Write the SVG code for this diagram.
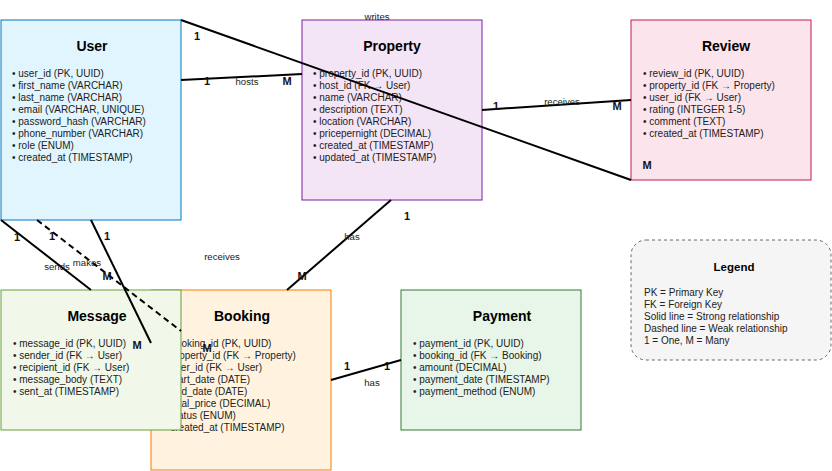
<svg xmlns="http://www.w3.org/2000/svg" width="832" height="471" viewBox="0 0 832 471">
<style>
text{font-family:"Liberation Sans",Arial,Helvetica,sans-serif;}
.title{font-size:14px;font-weight:bold;fill:#000;text-anchor:middle;}
.f{font-size:10px;fill:#222;}
.box{stroke-width:1;}
.rel{font-size:9.6px;fill:#222;text-anchor:middle;}
.card{font-size:11px;font-weight:bold;fill:#111;text-anchor:middle;}
.line{stroke:#000;stroke-width:2;fill:none;}
.dash{stroke-dasharray:6 4;}
</style>
<rect width="832" height="471" fill="#fff"/>
<g id="user">
<rect class="box" x="1" y="20" width="180" height="200" fill="#e1f5fe" stroke="#0277bd"/>
<text class="title" x="92" y="51">User</text>
<text class="f" x="12" y="77">• user_id (PK, UUID)</text>
<text class="f" x="12" y="89">• first_name (VARCHAR)</text>
<text class="f" x="12" y="101">• last_name (VARCHAR)</text>
<text class="f" x="12" y="113">• email (VARCHAR, UNIQUE)</text>
<text class="f" x="12" y="125">• password_hash (VARCHAR)</text>
<text class="f" x="12" y="137">• phone_number (VARCHAR)</text>
<text class="f" x="12" y="149">• role (ENUM)</text>
<text class="f" x="12" y="161">• created_at (TIMESTAMP)</text>
</g>
<g id="property">
<rect class="box" x="302" y="20" width="180" height="180" fill="#f3e5f5" stroke="#7b1fa2"/>
<text class="title" x="392" y="51">Property</text>
<text class="f" x="313" y="77">• property_id (PK, UUID)</text>
<text class="f" x="313" y="89">• host_id (FK → User)</text>
<text class="f" x="313" y="101">• name (VARCHAR)</text>
<text class="f" x="313" y="113">• description (TEXT)</text>
<text class="f" x="313" y="125">• location (VARCHAR)</text>
<text class="f" x="313" y="137">• pricepernight (DECIMAL)</text>
<text class="f" x="313" y="149">• created_at (TIMESTAMP)</text>
<text class="f" x="313" y="161">• updated_at (TIMESTAMP)</text>
</g>
<g id="review">
<rect class="box" x="631" y="20" width="180" height="160" fill="#fce4ec" stroke="#c2185b"/>
<text class="title" x="726" y="51">Review</text>
<text class="f" x="643" y="77">• review_id (PK, UUID)</text>
<text class="f" x="643" y="89">• property_id (FK → Property)</text>
<text class="f" x="643" y="101">• user_id (FK → User)</text>
<text class="f" x="643" y="113">• rating (INTEGER 1-5)</text>
<text class="f" x="643" y="125">• comment (TEXT)</text>
<text class="f" x="643" y="137">• created_at (TIMESTAMP)</text>
</g>
<g id="booking">
<rect class="box" x="151" y="290" width="180" height="180" fill="#fff3e0" stroke="#f57c00"/>
<text class="title" x="242" y="321">Booking</text>
<text class="f" x="164" y="347">• booking_id (PK, UUID)</text>
<text class="f" x="164" y="359">• property_id (FK → Property)</text>
<text class="f" x="164" y="371">• user_id (FK → User)</text>
<text class="f" x="164" y="383">• start_date (DATE)</text>
<text class="f" x="164" y="395">• end_date (DATE)</text>
<text class="f" x="164" y="407">• total_price (DECIMAL)</text>
<text class="f" x="164" y="419">• status (ENUM)</text>
<text class="f" x="164" y="431">• created_at (TIMESTAMP)</text>
</g>
<g id="message">
<rect class="box" x="1" y="290" width="180" height="140" fill="#f1f8e9" stroke="#689f38"/>
<text class="title" x="97" y="321">Message</text>
<text class="f" x="13" y="347">• message_id (PK, UUID)</text>
<text class="f" x="13" y="359">• sender_id (FK → User)</text>
<text class="f" x="13" y="371">• recipient_id (FK → User)</text>
<text class="f" x="13" y="383">• message_body (TEXT)</text>
<text class="f" x="13" y="395">• sent_at (TIMESTAMP)</text>
</g>
<g id="payment">
<rect class="box" x="401" y="290" width="180" height="140" fill="#e8f5e9" stroke="#2e7d32"/>
<text class="title" x="502" y="321">Payment</text>
<text class="f" x="413" y="347">• payment_id (PK, UUID)</text>
<text class="f" x="413" y="359">• booking_id (FK → Booking)</text>
<text class="f" x="413" y="371">• amount (DECIMAL)</text>
<text class="f" x="413" y="383">• payment_date (TIMESTAMP)</text>
<text class="f" x="413" y="395">• payment_method (ENUM)</text>
</g>
<g id="legend">
<rect x="631" y="240" width="200" height="120" rx="15" ry="15" fill="#f5f5f5" stroke="#666" stroke-width="1" stroke-dasharray="3 3"/>
<text x="734" y="271" style="font-size:11.5px;font-weight:bold;fill:#000;text-anchor:middle">Legend</text>
<text class="f" x="644" y="296">PK = Primary Key</text>
<text class="f" x="644" y="308">FK = Foreign Key</text>
<text class="f" x="644" y="320">Solid line = Strong relationship</text>
<text class="f" x="644" y="332">Dashed line = Weak relationship</text>
<text class="f" x="644" y="344">1 = One, M = Many</text>
</g>
<g id="connectors">
<line class="line" x1="181" y1="80" x2="302" y2="74"/>
<line class="line" x1="181" y1="20" x2="631" y2="180"/>
<line class="line" x1="482" y1="110" x2="631" y2="100"/>
<line class="line" x1="391" y1="200" x2="287" y2="290"/>
<line class="line" x1="331" y1="380" x2="401" y2="360"/>
<line class="line" x1="1" y1="220" x2="91" y2="290"/>
<line class="line dash" x1="37" y1="220" x2="181" y2="331"/>
<line class="line" x1="91" y1="220" x2="151" y2="343"/>
<text class="card" x="207" y="85">1</text>
<text class="rel" x="247" y="85">hosts</text>
<text class="card" x="287" y="85">M</text>
<text class="card" x="197" y="40">1</text>
<text class="rel" x="377" y="20">writes</text>
<text class="card" x="647" y="169">M</text>
<text class="card" x="496" y="110">1</text>
<text class="rel" x="562" y="105">receives</text>
<text class="card" x="617" y="110">M</text>
<text class="card" x="407" y="220">1</text>
<text class="rel" x="352" y="240">has</text>
<text class="card" x="302" y="280">M</text>
<text class="card" x="347" y="370">1</text>
<text class="rel" x="372" y="386">has</text>
<text class="card" x="387" y="370">1</text>
<text class="card" x="17" y="241">1</text>
<text class="rel" x="57" y="270">sends</text>
<text class="card" x="52" y="240">1</text>
<text class="rel" x="87" y="266">makes</text>
<text class="card" x="107" y="280">M</text>
<text class="card" x="107" y="240">1</text>
<text class="card" x="137" y="349">M</text>
<text class="card" x="207" y="352">M</text>
<text class="rel" x="222" y="260">receives</text>
</g>
</svg>
